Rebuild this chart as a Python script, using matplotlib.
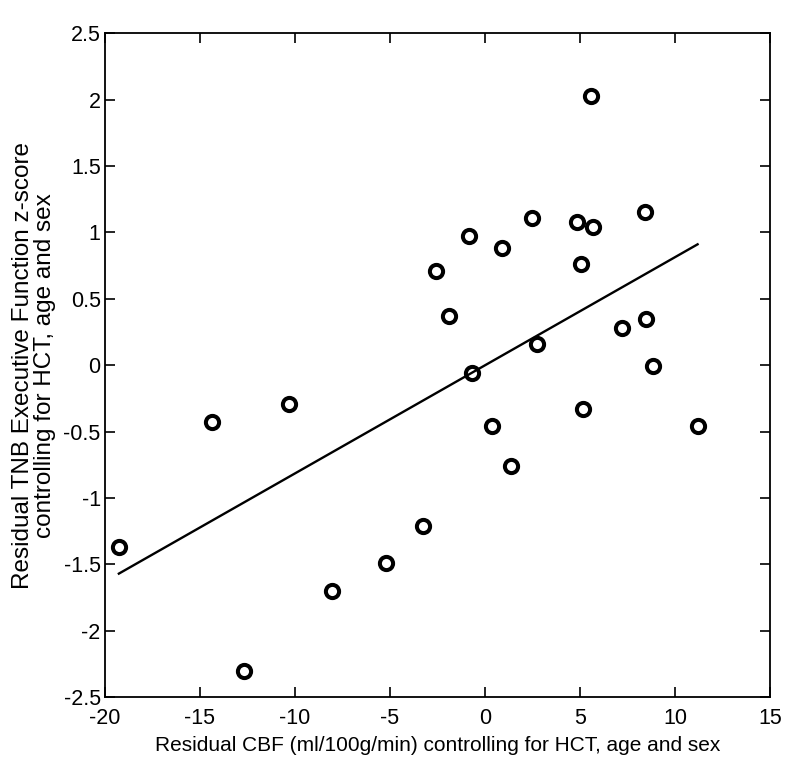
import numpy as np
import matplotlib
matplotlib.use('Agg')
import matplotlib.pyplot as plt

# --- Data --- #
cbf_resid = [-19.26, -14.37, -12.65, -10.33, -8.05, -5.23, -3.25, -2.58, -1.9, -0.86,
             -0.68, 0.35, 0.91, 1.39, 2.46, 2.72, 4.84, 5.03, 5.14, 5.58,
             5.7, 7.23, 8.4, 8.5, 8.82, 11.19]
tnb_resid = [-1.37, -0.43, -2.30, -0.29, -1.70, -1.49, -1.21, 0.71, 0.37, 0.97,
             -0.06, -0.46, 0.88, -0.76, 1.11, 0.16, 1.08, 0.76, -0.33, 2.03,
             1.04, 0.28, 1.15, 0.35, -0.01, -0.46]

# fitted line end points
fit_x = [-19.26, 11.19]
fit_y = [-1.57, 0.91]

xticks = [-20, -15, -10, -5, 0, 5, 10, 15]
yticks = [-2.5, -2, -1.5, -1, -0.5, 0, 0.5, 1, 1.5, 2, 2.5]

plt.rcParams['font.family'] = ['Liberation Sans', 'DejaVu Sans']

fig = plt.figure(figsize=(8, 7.72), dpi=100)
ax = fig.add_axes([0.131, 0.097, 0.8315, 0.86])

ax.plot(cbf_resid, tnb_resid, 'o', markersize=9.5, markerfacecolor='none',
        markeredgecolor='black', markeredgewidth=2.9)
ax.plot(fit_x, fit_y, '-', color='black', linewidth=1.7)

ax.set_xlim(-20, 15)
ax.set_ylim(-2.5, 2.5)
ax.set_xticks(xticks)
ax.set_yticks(yticks)
ax.set_xticklabels([f"{t:g}" for t in xticks])
ax.set_yticklabels([f"{t:g}" for t in yticks])
ax.tick_params(direction='in', top=True, right=True, length=7, width=1.2,
               labelsize=15.5)
ax.tick_params(axis='x', pad=8)
ax.tick_params(axis='y', pad=3)
for s in ax.spines.values():
    s.set_linewidth(1.3)

ax.set_xlabel('Residual CBF (ml/100g/min) controlling for HCT, age and sex',
              fontsize=15, labelpad=5)
ax.set_ylabel('Residual TNB Executive Function z-score\ncontrolling for HCT, age and sex',
              fontsize=17.5, labelpad=5, linespacing=1.0)

fig.savefig('out.png', dpi=100)
plt.close(fig)
